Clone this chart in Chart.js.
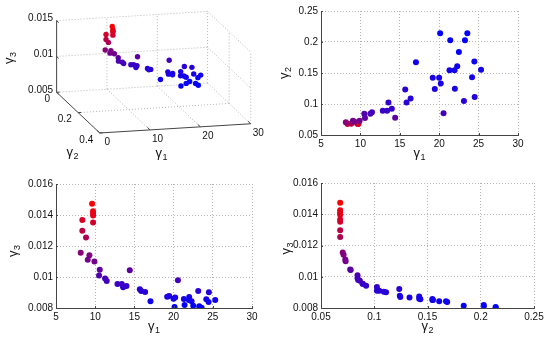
<!DOCTYPE html>
<html>
<head>
<meta charset="utf-8">
<script src="https://cdn.jsdelivr.net/npm/chart.js@4.4.0/dist/chart.umd.min.js"></script>
<style>
html, body { margin: 0; padding: 0; background: #fff; }
#wrap { position: relative; width: 550px; height: 344px; }
canvas { position: absolute; }
</style>
</head>
<body>
<div id="wrap">
  <canvas id="c3d" width="275" height="172" style="left:0;top:0"></canvas>
  <canvas id="c12" width="275" height="172" style="left:275px;top:0"></canvas>
  <canvas id="c13" width="275" height="172" style="left:0;top:172px"></canvas>
  <canvas id="c23" width="275" height="172" style="left:275px;top:172px"></canvas>
</div>
<script>
// objective values of the front (gamma1, gamma2, gamma3)
var g1 = [9.6, 9.73, 9.73, 9.73, 9.73, 8.36, 8.36, 8.83, 8.15, 9.26, 9.05, 9.9,
          10.58, 10.49, 11.26, 11.47, 12.84, 13.39, 13.56, 13.99, 14.41, 15.69, 15.86, 16.37,
          17.05, 19.18, 19.44, 19.99, 20.2, 20.12, 20.55, 21.31, 21.4, 21.99, 21.95, 22.29,
          22.5, 23.14, 23.27, 23.57, 24.17, 24.46, 24.5, 25.31];
var g2 = [0.068, 0.068, 0.068, 0.068, 0.068, 0.068, 0.068, 0.068, 0.0704, 0.0712, 0.0728, 0.0731,
          0.0774, 0.0843, 0.0843, 0.0865, 0.0891, 0.0891, 0.1025, 0.0924, 0.0779, 0.1235, 0.1025, 0.109,
          0.1674, 0.1422, 0.124, 0.1422, 0.1331, 0.214, 0.0849, 0.1546, 0.2028, 0.1245, 0.1546, 0.161,
          0.184, 0.1047, 0.2028, 0.214, 0.1433, 0.1685, 0.1111, 0.1551];
var g3 = [0.01473, 0.01425, 0.0141, 0.01397, 0.01352, 0.01367, 0.01298, 0.01255, 0.01156, 0.01141, 0.01111, 0.011,
          0.01046, 0.01009, 0.0099, 0.00975, 0.00955, 0.00955, 0.00934, 0.00942, 0.01044, 0.00921, 0.0091, 0.00904,
          0.00843, 0.00873, 0.00878, 0.0086, 0.00867, 0.00806, 0.00979, 0.00858, 0.0082, 0.00871, 0.00852, 0.00843,
          0.00815, 0.0091, 0.00811, 0.00802, 0.00856, 0.00839, 0.00901, 0.00852];

var g1Ticks = [5, 10, 15, 20, 25, 30];
var g2Ticks = [0.05, 0.1, 0.15, 0.2, 0.25];
var g3Ticks = [0.008, 0.01, 0.012, 0.014, 0.016];

// 3d view ticks
var g1Ticks3d = [0, 10, 20, 30];
var g2Ticks3d = [0, 0.2, 0.4];
var g3Ticks3d = [0.005, 0.01, 0.015];

var FONT = '"Liberation Sans", Arial, sans-serif';
var AXIS = '#444';
var GRID = '#b4b4b4';

// red -> blue by gamma3
var lo = Math.min.apply(null, g3), hi = Math.max.apply(null, g3);
var colors = g3.map(function (v) {
    var t = (v - lo) / (hi - lo);
    return 'rgb(' + Math.round(255 * t) + ',0,' + Math.round(255 * (1 - t)) + ')';
});

function fmt(v) {
    return String(parseFloat(Number(v).toFixed(4)));
}

// gamma with subscript; horizontal: (cx = centre, cy = baseline), rotated: (cx = baseline, cy = centre)
function gammaLabel(ctx, cx, cy, sub, rotated) {
    ctx.save();
    ctx.fillStyle = '#111';
    ctx.textBaseline = 'alphabetic';
    ctx.textAlign = 'left';
    ctx.font = '13px ' + FONT;
    var w1 = ctx.measureText('\u03b3').width;
    ctx.font = '9px ' + FONT;
    var w2 = ctx.measureText(sub).width;
    var tot = w1 + w2 + 0.5;
    ctx.translate(cx, cy);
    if (rotated) ctx.rotate(-Math.PI / 2);
    ctx.font = '13px ' + FONT;
    ctx.fillText('\u03b3', -tot / 2, 0);
    ctx.font = '9px ' + FONT;
    ctx.fillText(sub, -tot / 2 + w1 + 0.5, 3);
    ctx.restore();
}

var deco = {
    id: 'deco',
    afterDraw: function (chart, args, o) {
        var ctx = chart.ctx, a = chart.chartArea;
        var xs = chart.scales.x, ys = chart.scales.y;
        ctx.save();
        ctx.strokeStyle = AXIS;
        ctx.lineWidth = 1;
        ctx.beginPath();
        xs.ticks.forEach(function (t) {
            var p = Math.round(xs.getPixelForValue(t.value)) + 0.5;
            ctx.moveTo(p, a.bottom);
            ctx.lineTo(p, a.bottom - 2);
        });
        ys.ticks.forEach(function (t) {
            var p = Math.round(ys.getPixelForValue(t.value)) + 0.5;
            ctx.moveTo(a.left, p);
            ctx.lineTo(a.left + 2, p);
        });
        ctx.stroke();
        ctx.restore();
        gammaLabel(ctx, (a.left + a.right) / 2, a.bottom + 22, o.xSub, false);
        gammaLabel(ctx, o.yTitleX, (a.top + a.bottom) / 2 + o.yTitleDy, o.ySub, true);
    }
};

function make2d(id, xs, ys, xTicks, yTicks, area, xSub, ySub) {
    var pts = xs.map(function (v, i) { return { x: v, y: ys[i] }; });
    var tickFont = { family: FONT, size: 10 };
    return new Chart(document.getElementById(id), {
        type: 'scatter',
        data: {
            datasets: [{
                data: pts,
                backgroundColor: colors,
                borderWidth: 0,
                pointRadius: 3,
                pointHoverRadius: 3
            }]
        },
        options: {
            responsive: false,
            animation: false,
            events: [],
            layout: { padding: { left: 0, top: area.top, right: 275 - area.right, bottom: 0 } },
            plugins: {
                legend: { display: false },
                tooltip: { enabled: false },
                deco: { xSub: xSub, ySub: ySub, yTitleX: area.yTitleX, yTitleDy: area.yTitleDy }
            },
            scales: {
                x: {
                    type: 'linear',
                    min: xTicks[0],
                    max: xTicks[xTicks.length - 1],
                    afterBuildTicks: function (s) { s.ticks = xTicks.map(function (v) { return { value: v }; }); },
                    afterFit: function (s) { s.height = 172 - area.bottom; },
                    grid: { color: GRID, drawTicks: false },
                    border: { color: AXIS, dash: [1, 2] },
                    ticks: { padding: 3, color: '#111', font: tickFont, callback: fmt, maxRotation: 0, autoSkip: false }
                },
                y: {
                    type: 'linear',
                    min: yTicks[0],
                    max: yTicks[yTicks.length - 1],
                    afterBuildTicks: function (s) { s.ticks = yTicks.map(function (v) { return { value: v }; }); },
                    afterFit: function (s) { s.width = area.left; },
                    grid: { color: GRID, drawTicks: false },
                    border: { color: AXIS, dash: [1, 2] },
                    ticks: { padding: 3, color: '#111', font: tickFont, callback: fmt, autoSkip: false }
                }
            }
        },
        plugins: [deco]
    });
}

make2d('c12', g1, g2, g1Ticks, g2Ticks, { left: 46, right: 243, top: 11, bottom: 135, yTitleX: 13, yTitleDy: 0 }, '1', '2');
make2d('c13', g1, g3, g1Ticks, g3Ticks, { left: 56, right: 252, top: 12, bottom: 136, yTitleX: 17, yTitleDy: 5 }, '1', '3');
make2d('c23', g2, g3, g2Ticks, g3Ticks, { left: 46, right: 259, top: 11, bottom: 136, yTitleX: 14.5, yTitleDy: 3 }, '2', '3');

// ---- 3d view ----
function proj(a, b, c) {
    return {
        x: 55 + a / 30 * 154 + b / 0.4 * 44,
        y: 92.5 - a / 30 * 9.5 + b / 0.4 * 42 - (c - 0.005) / 0.01 * 74
    };
}

var pts3d = g1.map(function (v, i) { return proj(v, g2[i], g3[i]); });

var box3d = {
    id: 'box3d',
    beforeDatasetsDraw: function (chart) {
        var ctx = chart.ctx, sx = chart.scales.x, sy = chart.scales.y;
        function P(a, b, c) {
            var p = proj(a, b, c);
            return { x: sx.getPixelForValue(p.x), y: sy.getPixelForValue(p.y) };
        }
        function seg(p, q) { ctx.moveTo(p.x, p.y); ctx.lineTo(q.x, q.y); }
        var z0 = 0.005, z1 = 0.015, a1 = 30, b1 = 0.4;

        ctx.save();
        ctx.lineWidth = 1;
        ctx.strokeStyle = GRID;
        ctx.setLineDash([1, 2]);
        ctx.beginPath();
        // back wall (gamma2 = 0)
        g1Ticks3d.slice(1).forEach(function (a) { seg(P(a, 0, z0), P(a, 0, z1)); });
        g3Ticks3d.slice(1).forEach(function (c) { seg(P(0, 0, c), P(a1, 0, c)); });
        // side wall (gamma1 = 30)
        g2Ticks3d.slice(1).forEach(function (b) { seg(P(a1, b, z0), P(a1, b, z1)); });
        g3Ticks3d.slice(1).forEach(function (c) { seg(P(a1, 0, c), P(a1, b1, c)); });
        // floor
        g1Ticks3d.slice(1).forEach(function (a) { seg(P(a, 0, z0), P(a, b1, z0)); });
        g2Ticks3d.slice(0, -1).forEach(function (b) { seg(P(0, b, z0), P(a1, b, z0)); });
        ctx.stroke();

        ctx.setLineDash([]);
        ctx.strokeStyle = AXIS;
        ctx.beginPath();
        seg(P(0, 0, z0), P(0, 0, z1));
        seg(P(0, 0, z0), P(0, b1, z0));
        seg(P(0, b1, z0), P(a1, b1, z0));
        g1Ticks3d.forEach(function (a) { seg(P(a, b1, z0), P(a, b1 - 0.025, z0)); });
        g2Ticks3d.forEach(function (b) { seg(P(0, b, z0), P(0.6, b, z0)); });
        g3Ticks3d.forEach(function (c) { seg(P(0, 0, c), P(0, 0.02, c)); });
        ctx.stroke();

        ctx.fillStyle = '#111';
        ctx.font = '10px ' + FONT;
        ctx.textBaseline = 'middle';
        ctx.textAlign = 'center';
        g1Ticks3d.forEach(function (a) {
            var p = P(a, b1, z0);
            ctx.fillText(fmt(a), p.x + 7.5, p.y + 9.5);
        });
        ctx.textAlign = 'right';
        g2Ticks3d.forEach(function (b) {
            var p = P(0, b, z0);
            ctx.fillText(fmt(b), p.x - 6.5, p.y + 7);
        });
        g3Ticks3d.forEach(function (c) {
            var p = P(0, 0, c);
            ctx.fillText(fmt(c), p.x - 3.5, p.y - 2.5);
        });
        ctx.restore();

        gammaLabel(ctx, 161.5, 157, '1', false);
        gammaLabel(ctx, 72.5, 156, '2', false);
        gammaLabel(ctx, 13, 58, '3', true);
    }
};

new Chart(document.getElementById('c3d'), {
    type: 'scatter',
    data: {
        datasets: [{
            data: pts3d,
            backgroundColor: colors,
            borderWidth: 0,
            pointRadius: 2.7,
            pointHoverRadius: 2.7
        }]
    },
    options: {
        responsive: false,
        animation: false,
        events: [],
        layout: { padding: 0 },
        plugins: { legend: { display: false }, tooltip: { enabled: false } },
        scales: {
            x: { type: 'linear', display: false, min: 0, max: 275 },
            y: { type: 'linear', display: false, min: 0, max: 172, reverse: true }
        }
    },
    plugins: [box3d]
});
</script>
</body>
</html>
